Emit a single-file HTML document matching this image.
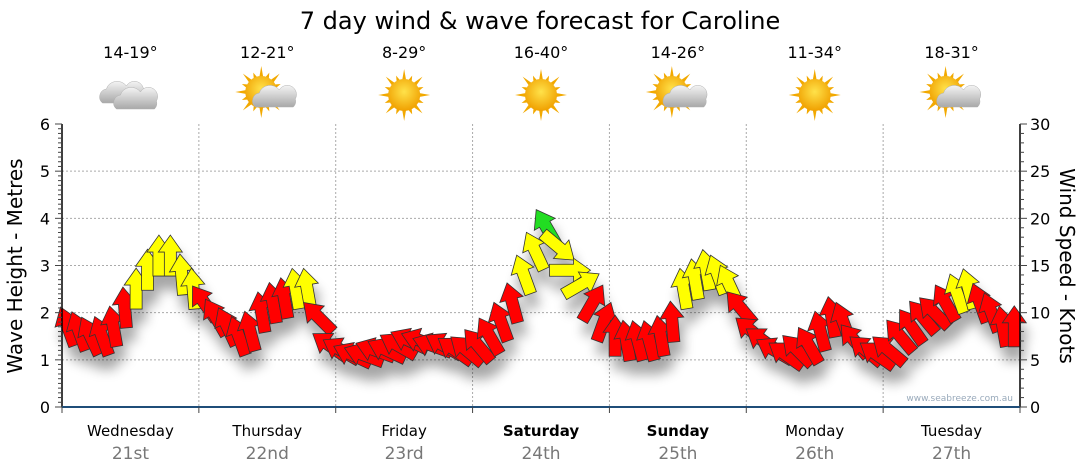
<!DOCTYPE html>
<html><head><meta charset="utf-8"><style>
body{margin:0;background:#fff;font-family:"DejaVu Sans","Liberation Sans",sans-serif;}
svg{display:block}
</style></head><body>
<svg id="chart" width="1080" height="475">
<defs>
<filter id="sh" x="-50%" y="-50%" width="200%" height="200%"><feGaussianBlur stdDeviation="6"/></filter>
<radialGradient id="sun" cx="50%" cy="40%" r="60%"><stop offset="0" stop-color="#ffe24a"/><stop offset="1" stop-color="#f0a000"/></radialGradient>
<linearGradient id="cl" x1="0" y1="0" x2="0" y2="1"><stop offset="0" stop-color="#f4f4f4"/><stop offset="1" stop-color="#a8a8a8"/></linearGradient>
</defs>
<text x="540" y="29" font-size="24" text-anchor="middle" fill="#000">7 day wind &amp; wave forecast for Caroline</text>
<g id="topg"></g>
<g id="grid"></g>
<g id="shadows" filter="url(#sh)" opacity="0.35"></g>
<g id="arrows"></g>
<g id="axes"></g>
<text x="1013" y="401" font-size="9" text-anchor="end" fill="#9ab">www.seabreeze.com.au</text>
<text transform="translate(22,266) rotate(-90)" font-size="20" text-anchor="middle">Wave Height - Metres</text>
<text transform="translate(1060,266) rotate(90)" font-size="20" text-anchor="middle">Wind Speed - Knots</text>
</svg>
<script>
const days=["Wednesday","Thursday","Friday","Saturday","Sunday","Monday","Tuesday"];
const dates=["21st","22nd","23rd","24th","25th","26th","27th"];
const boldDays=[false,false,false,true,true,false,false];
const temps=["14-19°","12-21°","8-29°","16-40°","14-26°","11-34°","18-31°"];
const icons=["cloud","partly","sun","sun","partly","sun","partly"];
const waveTicks=[0,1,2,3,4,5,6];
const windTicks=[0,5,10,15,20,25,30];
const windSpeed=[8.5,8,7.5,7.5,8.5,10.5,12.5,14.5,16,16,14,12.5,
11,9.5,8.5,7.5,8,10,11,11.5,12.5,12.5,9.5,6.5,
6,5.5,5.5,6,6,6.5,7,7,6.5,6.5,6,6,
6.5,7.5,9,11,14,16.5,19,17,14.5,13,11,9,
7.5,7,7,7,7.5,9,12.5,13.5,14.5,14,13,10.5,
8,7,6,5.5,6,6.5,8,9.5,9,7,6,5.5,
6,7.5,8.5,9.5,10,11,12,12.5,11,10,8.5,8.5];
const windDir=[-20,-20,-25,-20,-10,-5,0,0,0,0,-5,-5,
-35,-30,-25,-20,-15,-10,-10,-10,-10,-10,-45,-55,
-60,-65,-70,-70,-65,-60,-65,-70,-70,-60,-55,-50,
-40,-30,-20,-15,-20,-25,-30,130,90,60,30,20,
0,-10,-15,-15,-10,-5,-10,-10,-10,-20,-25,-40,
-50,-55,-60,-55,-45,-30,-15,-10,-20,-40,-50,-55,
-50,-40,-35,-40,-45,-30,-20,-15,-20,-20,-10,0];
const X0=62,X1=1020,Y0=407,Y1=124,dayW=(X1-X0)/7;
const yW=m=>Y0-(Y0-Y1)*m/6, yK=k=>Y0-(Y0-Y1)*k/30, xI=i=>X0+(i+0.5)*dayW/12;
const NS="http://www.w3.org/2000/svg";
function mk(t,a,p){const e=document.createElementNS(NS,t);for(const k in a)e.setAttribute(k,a[k]);(p||document.getElementById('chart')).appendChild(e);return e;}
const gridG=document.getElementById('grid'),axesG=document.getElementById('axes'),topG=document.getElementById('topg');
waveTicks.forEach(v=>{if(v>0&&v<6){const l=mk('line',{x1:X0,x2:X1,y1:yW(v),y2:yW(v),stroke:'#aaa','stroke-dasharray':'2,2'},gridG);

}});
for(let d=1;d<7;d++){const l=mk('line',{x1:X0+d*dayW,x2:X0+d*dayW,y1:Y1,y2:Y0,stroke:'#aaa','stroke-dasharray':'2,2'},gridG);

}
mk('line',{x1:X0,x2:X0,y1:Y1,y2:Y0,stroke:'#000','stroke-width':1.5},axesG);
mk('line',{x1:X1,x2:X1,y1:Y1,y2:Y0,stroke:'#000','stroke-width':1.5},axesG);
mk('line',{x1:X0,x2:X1,y1:Y0,y2:Y0,stroke:'#1f4e79','stroke-width':2},axesG);
for(let s=0;s<=60;s++){const y=Y0-(Y0-Y1)*s/60;mk('line',{x1:X0-(s%10?4:7),x2:X0,y1:y,y2:y,stroke:'#444'},axesG);}
for(let s=0;s<=30;s++){const y=yK(s);mk('line',{x1:X1,x2:X1+(s%5?4:7),y1:y,y2:y,stroke:'#444'},axesG);}
for(let d=0;d<=7;d++)mk('line',{x1:X0+d*dayW,x2:X0+d*dayW,y1:Y0,y2:Y0+6,stroke:'#444'},axesG);
waveTicks.forEach(v=>{const t=mk('text',{x:50,y:yW(v)+6,'font-size':16,'text-anchor':'end'},axesG);t.textContent=v;

});
windTicks.forEach(v=>{const t=mk('text',{x:1030,y:yK(v)+6,'font-size':16},axesG);t.textContent=v;

});
function cloud(g,cx,cy,s){mk('path',{d:`M${cx-20*s},${cy+8*s} a8,8 0 0 1 4,-14 a11,10 0 0 1 20,-3 a9,9 0 0 1 16,9 a8,8 0 0 1 -2,8 z`,fill:'url(#cl)',stroke:'#b0b0b0','stroke-width':0.5},g);}
days.forEach((d,i)=>{const cx=X0+(i+0.5)*dayW;
const a=mk('text',{x:cx,y:436,'font-size':15,'text-anchor':'middle','font-weight':boldDays[i]?'bold':'normal'});a.textContent=d;


const b=mk('text',{x:cx,y:459,'font-size':17,'text-anchor':'middle',fill:'#777'});b.textContent=dates[i];


const t=mk('text',{x:cx,y:58,'font-size':16,'text-anchor':'middle'},topG);t.textContent=temps[i];


const g=mk('g',{transform:`translate(${cx},95)`},topG);


if(icons[i]!=='cloud'){const sx=icons[i]==='sun'?0:-6,sy=icons[i]==='sun'?0:-3;
for(let r=0;r<16;r++){const an=r*Math.PI/8,L=r%2?21:26;mk('polygon',{points:`${sx+Math.cos(an-0.13)*15},${sy+Math.sin(an-0.13)*15} ${sx+Math.cos(an)*L},${sy+Math.sin(an)*L} ${sx+Math.cos(an+0.13)*15},${sy+Math.sin(an+0.13)*15}`,fill:'#f2a900'},g);}
mk('circle',{cx:sx,cy:sy,r:16,fill:'url(#sun)'},g);}
if(icons[i]==='cloud'){cloud(g,-8,0,1);cloud(g,6,6,1);}
if(icons[i]==='partly'){cloud(g,8,4,1);}
});
const arrowPts="0,-21 12,-4 6,-4 6,20 -6,20 -6,-4 -12,-4";
const shG=document.getElementById('shadows'),arG=document.getElementById('arrows');
windSpeed.forEach((k,i)=>{const x=xI(i),y=yK(k),r=windDir[i];
const col=k>=18.5?'#22dd22':k>=12?'#ffff00':'#ff0000';
mk('polygon',{points:arrowPts,transform:`translate(${x+4},${y+14}) rotate(${r})`,fill:'#000'},shG);
const p=mk('polygon',{points:arrowPts,transform:`translate(${x},${y}) rotate(${r})`,fill:col,stroke:'#333','stroke-width':0.8},arG);

});
</script>
</body></html>
